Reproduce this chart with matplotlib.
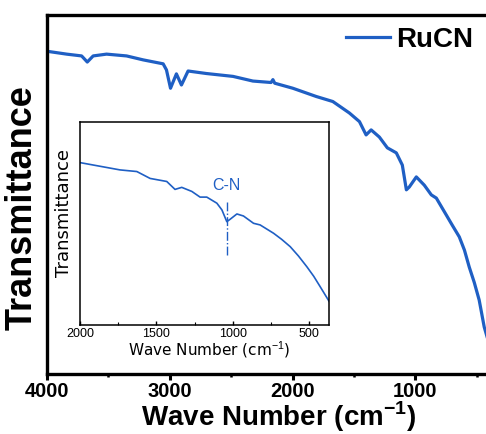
import matplotlib
matplotlib.use("Agg")
import matplotlib.pyplot as plt

# Espectro principal (número de onda, transmitância relativa)
wn_main = [4000, 3840, 3718, 3672, 3624, 3515, 3352, 3217, 3054, 3027, 2994, 2946,
           2905, 2851, 2702, 2485, 2323, 2175, 2160, 2145, 1998, 1807, 1672, 1537,
           1455, 1401, 1360, 1293, 1228, 1155, 1106, 1073, 1049, 992, 927, 870, 829,
           748, 700, 642, 600, 561, 520, 480, 439, 400]
t_main = [89.9, 89.1, 88.6, 86.9, 88.6, 89.1, 88.6, 87.5, 86.4, 84.7, 79.6, 83.6,
          80.5, 84.4, 83.7, 82.9, 81.6, 81.2, 82.0, 81.0, 79.6, 77.3, 75.9, 72.7,
          70.3, 66.6, 68.0, 66.0, 63.0, 61.6, 58.2, 51.3, 52.1, 54.9, 52.6, 49.9, 49.0,
          44.3, 41.5, 38.2, 34.5, 29.8, 25.5, 20.6, 13.1, 8.5]

# Detalhe (inset) 2000-370 cm-1
wn_ins = [2000, 1913, 1738, 1628, 1541, 1432, 1378, 1334, 1268, 1214, 1170, 1104,
          1071, 1039, 1017, 973, 930, 864, 821, 733, 680, 624, 570, 515, 470, 428, 368]
t_ins = [80.0, 78.8, 76.4, 75.6, 72.2, 70.7, 66.8, 67.8, 65.8, 63.0, 63.0, 60.0,
         56.7, 50.9, 52.1, 54.7, 53.7, 50.1, 49.3, 45.2, 42.2, 38.6, 34.0, 28.7, 24.0, 18.9, 11.5]

cn_pos = 1039
azul = "#1f5fc4"

plt.rcParams["font.family"] = ["Liberation Sans", "DejaVu Sans"]
plt.rcParams["mathtext.fontset"] = "custom"
plt.rcParams["mathtext.rm"] = "Liberation Sans"
plt.rcParams["mathtext.bf"] = "Liberation Sans:bold"

fig = plt.figure(figsize=(4.86, 4.34), dpi=100)

# ---------------- gráfico principal ----------------
ax = fig.add_axes([47 / 486, 60 / 434, 442 / 486, 359 / 434])
ax.plot(wn_main, t_main, color=azul, lw=2.3, label="RuCN")
ax.set_xlim(4000, 400)
ax.set_ylim(0, 100)
ax.set_yticks([])
ax.set_xticks([4000, 3000, 2000, 1000])
ax.set_xticks([3500, 2500, 1500, 500], minor=True)
ax.tick_params(axis="x", which="major", direction="out", length=4, width=2.2,
               labelsize=14.5, pad=2)
ax.tick_params(axis="x", which="minor", direction="out", length=2, width=1.8)
for lbl in ax.get_xticklabels():
    lbl.set_fontweight("bold")
for s in ax.spines.values():
    s.set_linewidth(2.4)

ax.set_xlabel(r"Wave Number (cm$^{\mathbf{-1}}$)", fontsize=20, fontweight="bold")
ax.xaxis.set_label_coords(0.523, -0.072)
ax.xaxis.label.set_va("top")
ax.set_ylabel("Transmittance", fontsize=26, fontweight="bold")
ax.yaxis.set_label_coords(-0.016, 0.465)

ax.legend(loc="center left", bbox_to_anchor=(346 / 486, 1 - 40 / 434),
          bbox_transform=fig.transFigure, frameon=False, borderpad=0,
          borderaxespad=0, handlelength=1.6, handletextpad=0.2,
          prop={"size": 20, "weight": "bold"})

# ---------------- inset ----------------
ins = fig.add_axes([80 / 486, 109 / 434, 249 / 486, 203 / 434])
ins.plot(wn_ins, t_ins, color=azul, lw=1.2)
ins.set_xlim(2000, 370)
ins.set_ylim(0, 100)
ins.set_yticks([])
ins.set_xticks([2000, 1500, 1000, 500])
ins.set_xticks([1750, 1250, 750], minor=True)
ins.tick_params(axis="x", which="major", direction="in", length=3, width=1,
                labelsize=9, pad=2)
ins.tick_params(axis="x", which="minor", direction="in", length=2, width=0.8)
for s in ins.spines.values():
    s.set_linewidth(1.1)

ins.vlines(cn_pos, 34.5, 60.6, colors=azul, linestyles="dashdot", lw=1)
ins.text(cn_pos, 68.5, "C-N", color=azul, fontsize=11.5, ha="center", va="center")

ins.set_xlabel(r"Wave Number (cm$^{-1}$)", fontsize=11, family="DejaVu Sans")
ins.xaxis.set_label_coords(0.518, -0.072)
ins.xaxis.label.set_va("top")
ins.set_ylabel("Transmittance", fontsize=13, family="DejaVu Sans")
ins.yaxis.set_label_coords(-0.03, 0.55)

fig.savefig("out.png", dpi=100)
